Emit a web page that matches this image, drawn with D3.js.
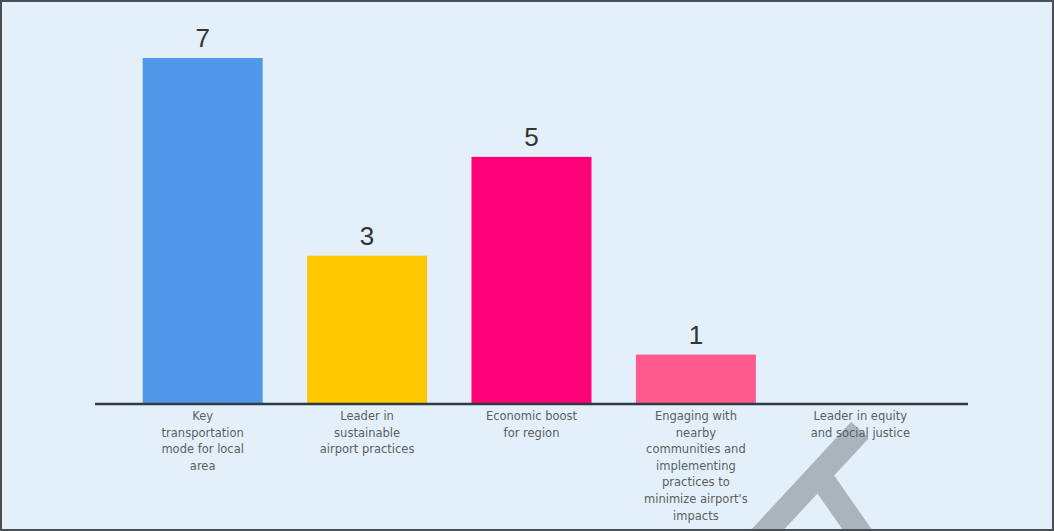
<!DOCTYPE html>
<html lang="en">
<head>
<meta charset="UTF-8">
<script src="https://d3js.org/d3.v7.min.js"></script>
<style>
    body { margin: 0; padding: 0; background: #fff; }
    svg { display: block; }
    .value { font-family: "Liberation Sans", Arial, sans-serif; font-size: 26px; fill: #333; }
    .cat { font-family: "DejaVu Sans", sans-serif; font-size: 11.5px; fill: #5a5f63; }
</style>
</head>
<body>
<div id="chart"></div>
<script>
    // data
    const categories = [
        "Key transportation mode for local area",
        "Leader in sustainable airport practices",
        "Economic boost for region",
        "Engaging with nearby communities and implementing practices to minimize airport's impacts",
        "Leader in equity and social justice"
    ];
    const labelLines = [
        ["Key", "transportation", "mode for local", "area"],
        ["Leader in", "sustainable", "airport practices"],
        ["Economic boost", "for region"],
        ["Engaging with", "nearby", "communities and", "implementing", "practices to", "minimize airport's", "impacts"],
        ["Leader in equity", "and social justice"]
    ];
    const values = [7, 3, 5, 1, 0];
    const colors = ["#4f98ea", "#ffc800", "#ff0078", "#ff5a8c", "#9ad0f5"];

    const width = 1054, height = 531;
    const axisY = 404, axisX0 = 95, axisX1 = 968;

    const svg = d3.select("#chart").append("svg")
        .attr("width", width)
        .attr("height", height);

    svg.append("rect")
        .attr("x", 1).attr("y", 1)
        .attr("width", width - 2).attr("height", height - 2)
        .attr("fill", "#e3f0fa");

    const x = d3.scaleBand()
        .domain(categories)
        .range([axisX0, axisX1])
        .paddingInner(0.27)
        .paddingOuter(0.29);

    const y = d3.scaleLinear()
        .domain([0, 7])
        .range([axisY, 58]);

    svg.append("g").selectAll("rect")
        .data(values)
        .join("rect")
        .attr("x", (d, i) => x(categories[i]))
        .attr("y", d => y(d))
        .attr("width", x.bandwidth())
        .attr("height", d => axisY - y(d))
        .attr("fill", (d, i) => colors[i]);

    svg.append("g").selectAll("text")
        .data(values)
        .join("text")
        .attr("class", "value")
        .attr("x", (d, i) => x(categories[i]) + x.bandwidth() / 2)
        .attr("y", d => y(d) - 11)
        .attr("text-anchor", "middle")
        .text(d => d > 0 ? d : "");

    // x axis baseline
    svg.append("line")
        .attr("x1", axisX0).attr("x2", axisX1)
        .attr("y1", axisY).attr("y2", axisY)
        .attr("stroke", "#2f3a42")
        .attr("stroke-width", 2.5);

    // grey mark overlapping the bottom right (behind the labels)
    const mark = svg.append("g")
        .attr("stroke", "#a9b4bc")
        .attr("stroke-width", 24)
        .attr("fill", "none");
    mark.append("line").attr("x1", 758).attr("y1", 540).attr("x2", 860).attr("y2", 430);
    mark.append("line").attr("x1", 824).attr("y1", 482).attr("x2", 866).attr("y2", 542);

    const cat = svg.append("g").selectAll("text")
        .data(categories)
        .join("text")
        .attr("class", "cat")
        .attr("text-anchor", "middle")
        .attr("x", d => x(d) + x.bandwidth() / 2)
        .attr("y", axisY + 16);

    cat.selectAll("tspan")
        .data((d, i) => labelLines[i])
        .join("tspan")
        .attr("x", function () { return this.parentNode.getAttribute("x"); })
        .attr("dy", (d, i) => i === 0 ? 0 : 16.6)
        .text(d => d);

    svg.append("rect")
        .attr("x", 1).attr("y", 1)
        .attr("width", width - 2).attr("height", height - 2)
        .attr("fill", "none")
        .attr("stroke", "#4a4f54")
        .attr("stroke-width", 2);
</script>
</body>
</html>
